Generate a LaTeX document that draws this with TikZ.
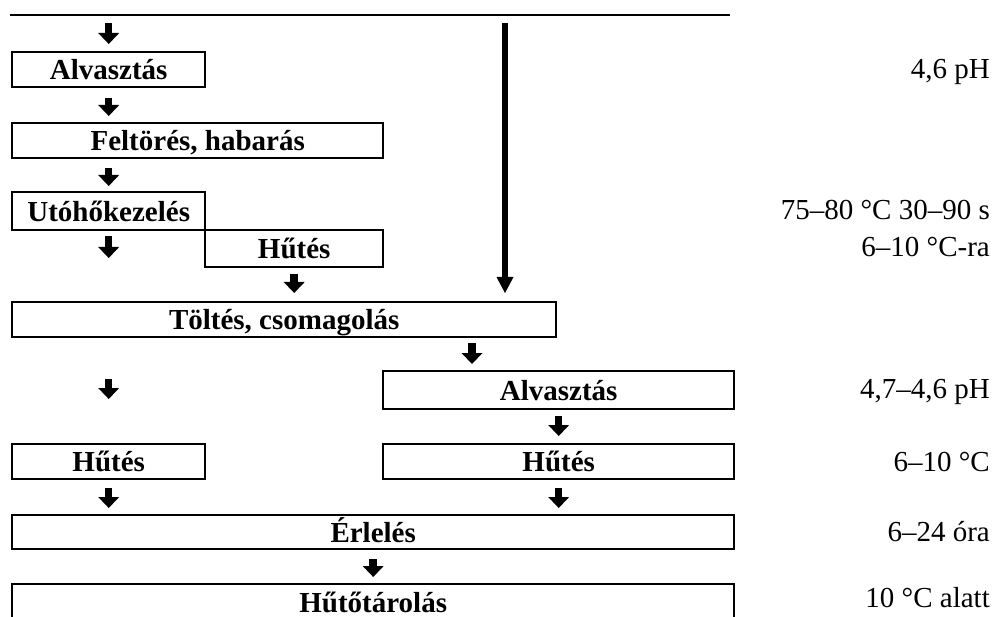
\documentclass[tikz,border=0pt]{standalone}
\usepackage{fontspec}
\setmainfont{Liberation Serif}
\usetikzlibrary{arrows.meta,calc}
\begin{document}
\begin{tikzpicture}[x=1pt,y=-1pt,
  stepbox/.style={draw, line width=2.4pt, inner sep=0pt, anchor=north west,
    font=\fontsize{29}{34}\selectfont\bfseries, text height=20pt, text depth=0pt},
  note/.style={anchor=base east, inner sep=0pt, font=\fontsize{29}{34}\selectfont},
  blk/.style={line width=7.5pt, -{Triangle[width=21pt,length=11pt,line width=0pt]}},
  longarrow/.style={line width=6pt, -{Triangle[width=17pt,length=16pt,line width=0pt]}}]
\clip (0,0) rectangle (998,617);

% process steps
\node[stepbox, minimum width=193pt, minimum height=35pt] (alv1) at (11,51) {Alvasztás};
\node[stepbox, minimum width=371pt, minimum height=35pt] (felt) at (11,122) {Feltörés, habarás};
\node[stepbox, minimum width=193pt, minimum height=38pt] (uto)  at (11,191) {Utóhőkezelés};
\node[stepbox, minimum width=178pt, minimum height=37pt] (hut1) at (204,229) {Hűtés};
\node[stepbox, minimum width=544pt, minimum height=35pt] (tolt) at (11,301) {Töltés, csomagolás};
\node[stepbox, minimum width=351pt, minimum height=38pt] (alv2) at (382,370) {Alvasztás};
\node[stepbox, minimum width=193pt, minimum height=35pt] (hutL) at (11,443) {Hűtés};
\node[stepbox, minimum width=351pt, minimum height=35pt] (hutR) at (382,443) {Hűtés};
\node[stepbox, minimum width=722pt, minimum height=34pt] (erl)  at (11,514) {Érlelés};
\node[stepbox, minimum width=722pt, minimum height=36pt] (huto) at (11,583) {Hűtőtárolás};

% process parameters
\node[note] (p1) at (990,79)  {4,6 pH};
\node[note] (p2) at (990,220) {75–80 °C 30–90 s};
\node[note] (p3) at (990,257) {6–10 °C-ra};
\node[note] (p4) at (990,398) {4,7–4,6 pH};
\node[note] (p5) at (990,471) {6–10 °C};
\node[note] (p6) at (990,541) {6–24 óra};
\node[note] (p7) at (990,607) {10 °C alatt};

% top rule
\coordinate (tl) at (10,15);
\coordinate (tr) at (730,15);
\draw[line width=2.4pt] (tl) -- (tr);

% bypass arrow
\coordinate (lt) at (505,23);
\draw[longarrow] (lt) -- ([yshift=8pt]tolt.north -| lt);

% step arrows
\coordinate (a6s) at (472,343);
\draw[blk] ([yshift=-8pt]alv1.north |- tl) -- ([yshift=7pt]alv1.north);
\draw[blk] ([yshift=-10pt]alv1.south) -- ([yshift=6pt]felt.north -| alv1.south);
\draw[blk] ([yshift=-9pt]alv1.south |- felt.south) -- ([yshift=5pt]uto.north);
\draw[blk] ([yshift=-5pt]uto.south) -- ([yshift=43pt]tolt.north -| uto.south);
\draw[blk] ([yshift=-6pt]hut1.south) -- ([yshift=8pt]tolt.north -| hut1.south);
\draw[blk] (a6s) -- ([yshift=6pt]alv2.north -| a6s);
\draw[blk] ([yshift=-41pt]tolt.south -| hutL.north) -- ([yshift=44pt]hutL.north);
\draw[blk] ([yshift=-6pt]alv2.south) -- ([yshift=7pt]hutR.north);
\draw[blk] ([yshift=-8pt]hutL.south) -- ([yshift=6pt]erl.north -| hutL.south);
\draw[blk] ([yshift=-8pt]hutR.south) -- ([yshift=6pt]erl.north -| hutR.south);
\draw[blk] ([yshift=-9pt]erl.south) -- ([yshift=6pt]huto.north);
\end{tikzpicture}
\end{document}
